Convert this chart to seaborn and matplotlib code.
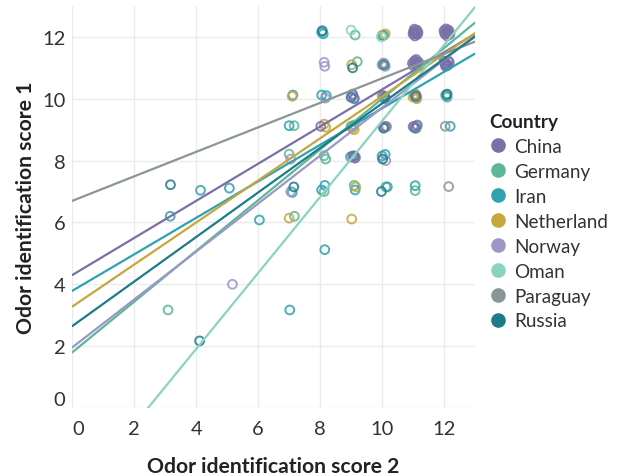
import numpy as np
import pandas as pd
import matplotlib
matplotlib.use("Agg")
import matplotlib.pyplot as plt
import seaborn as sns
from matplotlib.lines import Line2D

# ---------------- data ----------------
countries = ["China", "Germany", "Iran", "Netherland", "Norway", "Oman", "Paraguay", "Russia"]
colors = ["#7a6fa7", "#5db795", "#2ea2b0", "#c4a73f", "#9b97c7", "#8bd3c1", "#8a9696", "#1d7b8a"]

# trend line parameters (intercept, slope) per country
trend_intercept = [4.30, 1.80, 3.79, 3.28, 1.96, -3.00, 6.70, 2.65]
trend_slope = [0.60, 0.82, 0.59, 0.68, 0.775, 1.228, 0.396, 0.72]

china_x = [8.02, 9.05, 9.10, 9.05, 9.12, 10.05, 10.10, 10.05,
           11.00, 11.12, 11.06, 11.16, 11.04, 11.14, 11.09, 11.02,
           10.98, 11.10, 11.15, 11.04, 11.18, 11.02, 11.08, 11.12,
           11.10, 11.02, 11.14, 11.06,
           12.03, 12.14, 12.08, 12.18, 12.10, 12.00, 12.06, 12.13,
           12.02, 12.14, 12.08, 12.17, 12.00, 12.10, 12.05]
china_y = [9.11, 10.15, 10.02, 8.15, 8.08, 10.10, 9.10, 11.10,
           12.10, 12.22, 12.03, 12.15, 12.25, 12.08, 12.12, 12.18,
           11.15, 11.27, 11.08, 11.22, 11.18, 11.06, 11.12, 11.20,
           10.10, 9.10, 9.15, 9.05,
           12.10, 12.22, 12.16, 12.08, 12.03, 12.20, 12.26, 12.12,
           11.15, 11.22, 11.08, 11.18, 11.22, 11.12, 11.05]

germany_x = [3.09, 7.17, 7.16, 7.00, 8.13, 8.18, 8.13, 9.13, 9.20, 9.10, 9.10, 10.00,
             10.00, 10.10, 10.05, 10.05, 10.12, 11.07, 11.02, 11.10, 11.08, 12.05, 12.10, 12.16]
germany_y = [3.17, 6.20, 9.13, 8.21, 8.16, 8.05, 7.00, 12.06, 11.20, 9.15, 7.20, 12.05,
             11.10, 11.05, 11.15, 9.08, 7.15, 7.03, 12.15, 9.12, 10.12, 10.12, 10.05, 12.20]

iran_x = [3.16, 6.04, 8.15, 7.02, 4.14, 5.07, 7.12, 7.00, 7.10,
          8.05, 8.10, 8.05, 8.20, 8.05, 8.15, 9.10, 9.00, 8.98, 9.13,
          10.05, 10.08, 10.08, 10.00, 10.10, 10.17, 11.07, 11.12, 11.10,
          12.12, 12.05, 12.20, 12.08]
iran_y = [6.20, 6.08, 5.12, 3.17, 7.04, 7.11, 10.12, 9.13, 6.97,
          12.15, 12.10, 10.12, 10.10, 7.05, 7.20, 10.00, 9.10, 8.12, 7.05,
          12.05, 11.10, 10.00, 8.15, 8.20, 7.15, 7.19, 10.05, 9.05,
          11.08, 11.12, 9.11, 10.10]

netherland_x = [7.00, 9.02, 7.10, 8.13, 8.18, 9.02, 9.05, 9.10, 9.15, 10.10, 10.00, 10.12,
                11.00, 11.08, 11.12, 11.05, 12.02, 12.12]
netherland_y = [6.14, 6.11, 10.08, 9.18, 9.08, 11.10, 9.05, 9.00, 7.15, 12.10, 10.10, 9.10,
                10.05, 10.15, 10.00, 10.10, 12.12, 12.20]

norway_x = [5.17, 7.05, 7.05, 8.13, 8.15, 8.17, 9.05, 10.12, 10.05, 10.15, 11.05, 11.00, 9.15]
norway_y = [4.00, 8.05, 7.00, 11.18, 11.05, 10.02, 10.10, 8.00, 11.15, 9.10, 12.10, 9.10, 8.10]

oman_x = [9.00, 9.98, 11.10, 12.20]
oman_y = [12.22, 12.00, 12.12, 12.10]

paraguay_x = [12.04, 12.15, 11.10]
paraguay_y = [9.11, 7.16, 11.10]

russia_x = [3.17, 4.11, 7.15, 8.07, 9.05, 9.00, 9.10, 10.10, 10.05, 10.02, 9.98, 11.08, 12.10]
russia_y = [7.22, 2.17, 7.15, 12.20, 11.00, 10.05, 8.15, 10.05, 9.05, 8.05, 7.00, 10.08, 10.15]

x_ticks = [0, 2, 4, 6, 8, 10, 12]
y_ticks = [0, 2, 4, 6, 8, 10, 12]

# ---------------- build table ----------------
series = {
    "Germany": (germany_x, germany_y),
    "Iran": (iran_x, iran_y),
    "Netherland": (netherland_x, netherland_y),
    "Norway": (norway_x, norway_y),
    "Oman": (oman_x, oman_y),
    "Paraguay": (paraguay_x, paraguay_y),
    "Russia": (russia_x, russia_y),
    "China": (china_x, china_y),
}
frames = [pd.DataFrame({"x": xs, "y": ys, "Country": c}) for c, (xs, ys) in series.items()]
df = pd.concat(frames, ignore_index=True)
palette = dict(zip(countries, colors))

# ---------------- style ----------------
sns.set_theme(style="white")
plt.rcParams["font.family"] = ["Lato", "DejaVu Sans"]

fig = plt.figure(figsize=(6.19, 4.77), dpi=100)
ax = fig.add_axes([72.3 / 619, 1 - 409 / 477, (475 - 72.3) / 619, (409 - 7) / 477])

ax.set_xlim(0, 13)
ax.set_ylim(0, 13)
ax.set_xticks(x_ticks)
ax.set_yticks(y_ticks)
ax.grid(True, color="#ebebeb", linewidth=1.0)
ax.set_axisbelow(True)
for s in ax.spines.values():
    s.set_visible(False)

sns.scatterplot(data=df, x="x", y="y", hue="Country", palette=palette,
                s=40, linewidth=1.4, alpha=0.85, legend=False, ax=ax, zorder=2)
coll = ax.collections[-1]
fc = coll.get_facecolors()
coll.set_edgecolors(fc)
coll.set_facecolors("none")

for c, col, b, m in zip(countries, colors, trend_intercept, trend_slope):
    ax.axline((0, b), slope=m, color=col, linewidth=1.6, zorder=3)

ax.tick_params(axis="both", length=0, labelsize=14.5, colors="#333333")
ax.tick_params(axis="x", pad=9)
ax.tick_params(axis="y", pad=5)
# first labels nudged inside like the reference
ax.get_xticklabels()[0].set_horizontalalignment("left")
ax.get_yticklabels()[0].set_verticalalignment("bottom")

ax.set_xlabel("Odor identification score 2", fontsize=15.2, fontweight="bold",
              color="#222222", labelpad=13)
ax.set_ylabel("Odor identification score 1", fontsize=15.2, fontweight="bold",
              color="#222222", labelpad=4)

handles = [Line2D([], [], marker="o", linestyle="", markersize=9.5,
                  markerfacecolor=col, markeredgecolor=col) for col in colors]
leg = ax.legend(handles, countries, title="Country", loc="upper left",
                bbox_to_anchor=(489 / 619, 1 - 114 / 477), bbox_transform=fig.transFigure,
                frameon=False, fontsize=13.6, title_fontsize=13.6,
                handletextpad=0.35, labelspacing=0.42, borderpad=0, borderaxespad=0,
                handlelength=1.0, alignment="left")
leg.get_title().set_fontweight("bold")
leg.get_title().set_color("#222222")
for t in leg.get_texts():
    t.set_color("#333333")

fig.savefig("out.png", dpi=100)
